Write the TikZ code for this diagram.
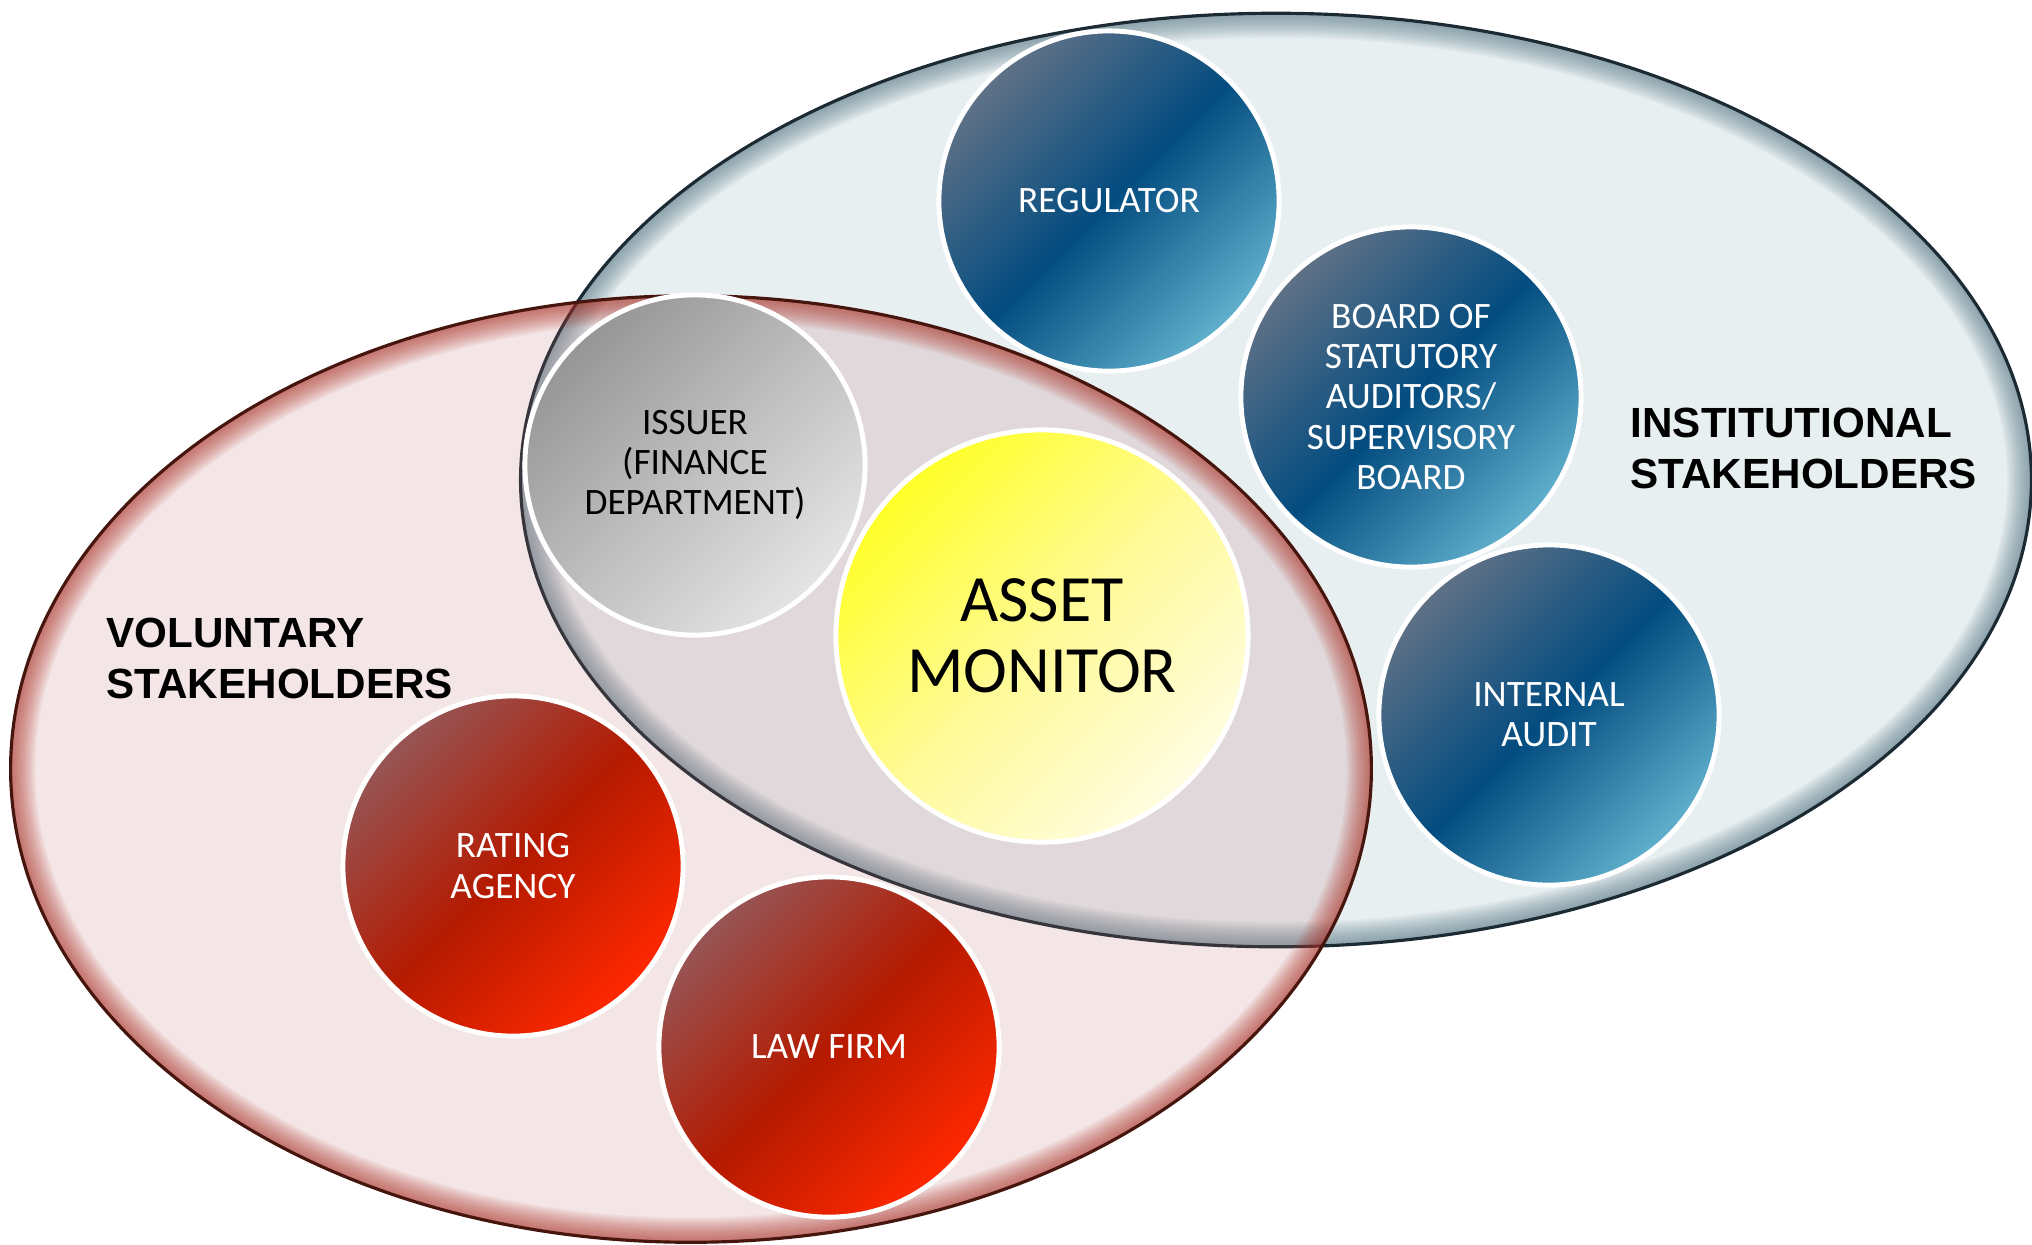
\documentclass[tikz,border=0pt]{standalone}
\usepackage{fontspec}
\setmainfont{Carlito}
\newfontfamily\labelfont{Liberation Sans}
\definecolor{instfill}{RGB}{232,239,241}
\definecolor{instline}{RGB}{28,43,51}
\definecolor{instglow}{RGB}{80,115,130}
\definecolor{volfill}{RGB}{190,108,108}
\definecolor{volline}{RGB}{70,22,14}
\definecolor{volglow}{RGB}{170,40,28}
\definecolor{blueA}{RGB}{95,113,134}
\definecolor{blueB}{RGB}{3,76,128}
\definecolor{blueC}{RGB}{96,176,205}
\definecolor{redA}{RGB}{150,85,85}
\definecolor{redB}{RGB}{180,26,0}
\definecolor{redC}{RGB}{255,40,0}
\definecolor{grayA}{RGB}{150,150,150}
\definecolor{grayB}{RGB}{190,190,190}
\definecolor{grayC}{RGB}{228,228,228}
\definecolor{yelA}{RGB}{255,255,40}
\definecolor{yelB}{RGB}{255,250,150}
\definecolor{yelC}{RGB}{255,253,225}
\tikzset{
  bubble/.style={circle, draw=white, line width=1.4pt, minimum size=3.4cm, inner sep=0pt,
    align=center, font=\fontsize{10.6}{11.4}\selectfont},
  bluebub/.style={bubble, top color=blueA, bottom color=blueC, middle color=blueB, shading angle=45, text=white},
  redbub/.style={bubble, top color=redA, bottom color=redC, middle color=redB, shading angle=45, text=white},
  graybub/.style={bubble, top color=grayA, bottom color=grayC, middle color=grayB, shading angle=45, text=black},
  yelbub/.style={bubble, top color=yelA, bottom color=yelC, middle color=yelB, shading angle=45, text=black,
    minimum size=4.12cm, font=\fontsize{18.8}{20.2}\selectfont},
  grouplabel/.style={font=\labelfont\bfseries\fontsize{12}{14.5}\selectfont, align=left, anchor=west, inner sep=0pt},
  instshape/.style={x radius=7.55cm, y radius=4.665cm},
  volshape/.style={x radius=6.80cm, y radius=4.73cm},
}
\begin{document}
\begin{tikzpicture}[x=0.01cm, y=-0.01cm]
\useasboundingbox (0,0) rectangle (2032,1244);
\fill[white] (0,0) rectangle (2032,1244);
\coordinate (I) at (1276,480);
\coordinate (V) at (691,769);
% institutional ellipse
\fill[instfill] (I) ellipse [instshape];
\begin{scope}
  \clip (I) ellipse [instshape];
  \foreach \w in {1,2,...,14} \draw[instglow, line width=\w pt, opacity=0.06] (I) ellipse [instshape];
\end{scope}
\draw[instline, line width=0.9pt] (I) ellipse [instshape];
% voluntary ellipse
\fill[volfill, opacity=0.17] (V) ellipse [volshape];
\begin{scope}
  \clip (V) ellipse [volshape];
  \foreach \w in {1,2,...,14} \draw[volglow, line width=\w pt, opacity=0.06] (V) ellipse [volshape];
\end{scope}
\draw[volline, line width=0.9pt] (V) ellipse [volshape];
% bubbles
\node[bluebub] (reg) at (1109,201) {REGULATOR};
\node[bluebub] (board) at (1411,397) {BOARD OF\\STATUTORY\\AUDITORS/\\SUPERVISORY\\BOARD};
\node[bluebub] (audit) at (1549,715) {INTERNAL\\AUDIT};
\node[graybub] (issuer) at (695,465) {ISSUER\\(FINANCE\\DEPARTMENT)};
\node[yelbub] (asset) at (1042,636) {ASSET\\MONITOR};
\node[redbub] (rating) at (513,866) {RATING\\AGENCY};
\node[redbub] (law) at (829,1047) {LAW FIRM};
% labels
\node[grouplabel] (vol) at (106,658) {VOLUNTARY\\STAKEHOLDERS};
\node[grouplabel] (inst) at (1630,448) {INSTITUTIONAL\\STAKEHOLDERS};
\end{tikzpicture}
\end{document}
